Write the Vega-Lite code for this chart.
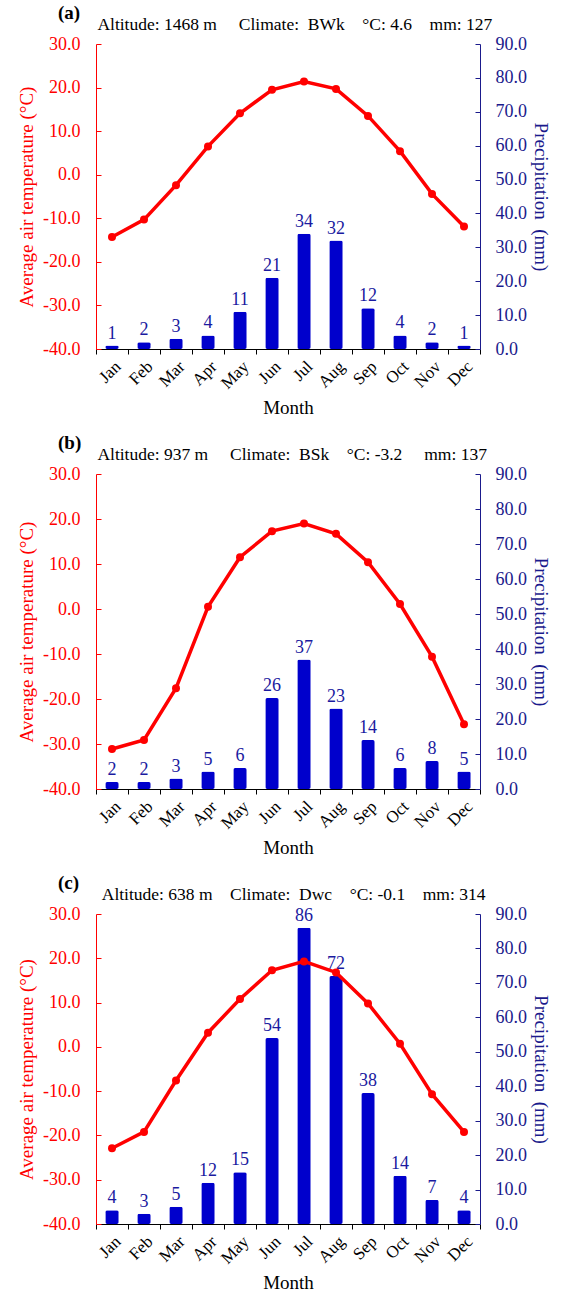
{
  "$schema": "https://vega.github.io/schema/vega-lite/v6.json",
  "padding": {"left": 17, "top": 3, "right": 0, "bottom": 0},
  "config": {
    "font": "Liberation Serif",
    "view": {"stroke": null},
    "concat": {"spacing": 15},
    "axis": {"labelFont": "Liberation Serif", "titleFont": "Liberation Serif", "grid": false, "titleFontWeight": "normal"},
    "title": {"font": "Liberation Serif", "subtitleFont": "Liberation Serif", "anchor": "start", "frame": "group", "dx": -38, "fontSize": 19, "fontWeight": "bold", "subtitleFontSize": 17.5, "subtitlePadding": -7, "offset": 2, "color": "#000000", "subtitleColor": "#000000"}
  },
  "datasets": {
    "a": [
      {"m": "Jan", "t": -14.3, "p": 1}, {"m": "Feb", "t": -10.3, "p": 2}, {"m": "Mar", "t": -2.4, "p": 3},
      {"m": "Apr", "t": 6.5, "p": 4}, {"m": "May", "t": 14.1, "p": 11}, {"m": "Jun", "t": 19.5, "p": 21},
      {"m": "Jul", "t": 21.4, "p": 34}, {"m": "Aug", "t": 19.7, "p": 32}, {"m": "Sep", "t": 13.5, "p": 12},
      {"m": "Oct", "t": 5.4, "p": 4}, {"m": "Nov", "t": -4.4, "p": 2}, {"m": "Dec", "t": -11.9, "p": 1}
    ],
    "b": [
      {"m": "Jan", "t": -31.1, "p": 2}, {"m": "Feb", "t": -29.1, "p": 2}, {"m": "Mar", "t": -17.6, "p": 3},
      {"m": "Apr", "t": 0.5, "p": 5}, {"m": "May", "t": 11.5, "p": 6}, {"m": "Jun", "t": 17.3, "p": 26},
      {"m": "Jul", "t": 19.0, "p": 37}, {"m": "Aug", "t": 16.7, "p": 23}, {"m": "Sep", "t": 10.4, "p": 14},
      {"m": "Oct", "t": 1.1, "p": 6}, {"m": "Nov", "t": -10.6, "p": 8}, {"m": "Dec", "t": -25.6, "p": 5}
    ],
    "c": [
      {"m": "Jan", "t": -22.9, "p": 4}, {"m": "Feb", "t": -19.2, "p": 3}, {"m": "Mar", "t": -7.6, "p": 5},
      {"m": "Apr", "t": 3.2, "p": 12}, {"m": "May", "t": 10.8, "p": 15}, {"m": "Jun", "t": 17.3, "p": 54},
      {"m": "Jul", "t": 19.3, "p": 86}, {"m": "Aug", "t": 16.8, "p": 72}, {"m": "Sep", "t": 9.8, "p": 38},
      {"m": "Oct", "t": 0.7, "p": 14}, {"m": "Nov", "t": -10.7, "p": 7}, {"m": "Dec", "t": -19.2, "p": 4}
    ]
  },
  "vconcat": [
    {
      "width": 384, "height": 305,
      "data": {"name": "a"},
      "title": {"text": "(a)", "subtitle": "\u200b\u00a0\u00a0\u00a0\u00a0\u00a0\u00a0\u00a0\u00a0\u00a0Altitude: 1468 m\u00a0\u00a0\u00a0\u00a0\u00a0Climate:\u00a0\u00a0BWk\u00a0\u00a0\u00a0\u00a0°C: 4.6\u00a0\u00a0\u00a0\u00a0mm: 127"},
      "encoding": {
        "x": {"field": "m", "type": "ordinal", "sort": null, "scale": {"paddingInner": 0, "paddingOuter": 0},
          "axis": {"title": "Month", "labelAngle": -45, "tickBand": "extent", "tickSize": 5, "domainColor": "#000000", "tickColor": "#000000", "labelColor": "#000000", "labelFontSize": 17, "titleFontSize": 19, "titleColor": "#000000", "labelPadding": 4, "titlePadding": 7}}
      },
      "layer": [
        {
          "encoding": {"y": {"field": "p", "type": "quantitative", "scale": {"domain": [0, 90], "nice": false},
            "axis": {"orient": "right", "title": "Precipitation\u00a0\u00a0(mm)", "values": [0, 10, 20, 30, 40, 50, 60, 70, 80, 90], "format": ".1f", "tickSize": -5, "labelPadding": 20, "domainColor": "#1a1a8c", "tickColor": "#1a1a8c", "labelColor": "#1a1a8c", "titleColor": "#1a1a8c", "labelFontSize": 18, "titleFontSize": 19, "titlePadding": 4}}},
          "layer": [
            {"mark": {"type": "bar", "color": "#0000cc", "width": {"band": 0.42}, "cornerRadius": 2}},
            {"mark": {"type": "text", "baseline": "alphabetic", "dy": -7, "fontSize": 18, "color": "#1a1aa0"}, "encoding": {"text": {"field": "p", "type": "quantitative"}}}
          ]
        },
        {
          "encoding": {"y": {"field": "t", "type": "quantitative", "scale": {"domain": [-40, 30], "nice": false},
            "axis": {"orient": "left", "title": "Average air temperature (°C)", "values": [-40, -30, -20, -10, 0, 10, 20, 30], "labelExpr": "replace(format(datum.value, '.1f'), '\u2212', '-')", "tickSize": -5, "labelPadding": 21, "domainColor": "#ff0000", "tickColor": "#ff0000", "labelColor": "#ff0000", "titleColor": "#ff0000", "labelFontSize": 18, "titleFontSize": 19, "titlePadding": 6}}},
          "layer": [
            {"mark": {"type": "line", "color": "#ff0000", "strokeWidth": 3.5}},
            {"mark": {"type": "point", "filled": true, "color": "#ff0000", "size": 64, "opacity": 1}}
          ]
        }
      ],
      "resolve": {"scale": {"y": "independent"}}
    },
    {
      "width": 384, "height": 315,
      "data": {"name": "b"},
      "title": {"text": "(b)", "subtitle": "\u200b\u00a0\u00a0\u00a0\u00a0\u00a0\u00a0\u00a0\u00a0\u00a0Altitude: 937 m\u00a0\u00a0\u00a0\u00a0\u00a0Climate:\u00a0\u00a0BSk\u00a0\u00a0\u00a0\u00a0°C: -3.2\u00a0\u00a0\u00a0\u00a0\u00a0mm: 137"},
      "encoding": {
        "x": {"field": "m", "type": "ordinal", "sort": null, "scale": {"paddingInner": 0, "paddingOuter": 0},
          "axis": {"title": "Month", "labelAngle": -45, "tickBand": "extent", "tickSize": 5, "domainColor": "#000000", "tickColor": "#000000", "labelColor": "#000000", "labelFontSize": 17, "titleFontSize": 19, "titleColor": "#000000", "labelPadding": 4, "titlePadding": 7}}
      },
      "layer": [
        {
          "encoding": {"y": {"field": "p", "type": "quantitative", "scale": {"domain": [0, 90], "nice": false},
            "axis": {"orient": "right", "title": "Precipitation\u00a0\u00a0(mm)", "values": [0, 10, 20, 30, 40, 50, 60, 70, 80, 90], "format": ".1f", "tickSize": -5, "labelPadding": 20, "domainColor": "#1a1a8c", "tickColor": "#1a1a8c", "labelColor": "#1a1a8c", "titleColor": "#1a1a8c", "labelFontSize": 18, "titleFontSize": 19, "titlePadding": 4}}},
          "layer": [
            {"mark": {"type": "bar", "color": "#0000cc", "width": {"band": 0.42}, "cornerRadius": 2}},
            {"mark": {"type": "text", "baseline": "alphabetic", "dy": -7, "fontSize": 18, "color": "#1a1aa0"}, "encoding": {"text": {"field": "p", "type": "quantitative"}}}
          ]
        },
        {
          "encoding": {"y": {"field": "t", "type": "quantitative", "scale": {"domain": [-40, 30], "nice": false},
            "axis": {"orient": "left", "title": "Average air temperature (°C)", "values": [-40, -30, -20, -10, 0, 10, 20, 30], "labelExpr": "replace(format(datum.value, '.1f'), '\u2212', '-')", "tickSize": -5, "labelPadding": 21, "domainColor": "#ff0000", "tickColor": "#ff0000", "labelColor": "#ff0000", "titleColor": "#ff0000", "labelFontSize": 18, "titleFontSize": 19, "titlePadding": 6}}},
          "layer": [
            {"mark": {"type": "line", "color": "#ff0000", "strokeWidth": 3.5}},
            {"mark": {"type": "point", "filled": true, "color": "#ff0000", "size": 64, "opacity": 1}}
          ]
        }
      ],
      "resolve": {"scale": {"y": "independent"}}
    },
    {
      "width": 384, "height": 310,
      "data": {"name": "c"},
      "title": {"text": "(c)", "subtitle": "\u200b\u00a0\u00a0\u00a0\u00a0\u00a0\u00a0\u00a0\u00a0\u00a0\u00a0Altitude: 638 m\u00a0\u00a0\u00a0\u00a0Climate:\u00a0\u00a0Dwc\u00a0\u00a0\u00a0\u00a0°C: -0.1\u00a0\u00a0\u00a0\u00a0mm: 314"},
      "encoding": {
        "x": {"field": "m", "type": "ordinal", "sort": null, "scale": {"paddingInner": 0, "paddingOuter": 0},
          "axis": {"title": "Month", "labelAngle": -45, "tickBand": "extent", "tickSize": 5, "domainColor": "#000000", "tickColor": "#000000", "labelColor": "#000000", "labelFontSize": 17, "titleFontSize": 19, "titleColor": "#000000", "labelPadding": 4, "titlePadding": 7}}
      },
      "layer": [
        {
          "encoding": {"y": {"field": "p", "type": "quantitative", "scale": {"domain": [0, 90], "nice": false},
            "axis": {"orient": "right", "title": "Precipitation\u00a0\u00a0(mm)", "values": [0, 10, 20, 30, 40, 50, 60, 70, 80, 90], "format": ".1f", "tickSize": -5, "labelPadding": 20, "domainColor": "#1a1a8c", "tickColor": "#1a1a8c", "labelColor": "#1a1a8c", "titleColor": "#1a1a8c", "labelFontSize": 18, "titleFontSize": 19, "titlePadding": 4}}},
          "layer": [
            {"mark": {"type": "bar", "color": "#0000cc", "width": {"band": 0.42}, "cornerRadius": 2}},
            {"mark": {"type": "text", "baseline": "alphabetic", "dy": -7, "fontSize": 18, "color": "#1a1aa0"}, "encoding": {"text": {"field": "p", "type": "quantitative"}}}
          ]
        },
        {
          "encoding": {"y": {"field": "t", "type": "quantitative", "scale": {"domain": [-40, 30], "nice": false},
            "axis": {"orient": "left", "title": "Average air temperature (°C)", "values": [-40, -30, -20, -10, 0, 10, 20, 30], "labelExpr": "replace(format(datum.value, '.1f'), '\u2212', '-')", "tickSize": -5, "labelPadding": 21, "domainColor": "#ff0000", "tickColor": "#ff0000", "labelColor": "#ff0000", "titleColor": "#ff0000", "labelFontSize": 18, "titleFontSize": 19, "titlePadding": 6}}},
          "layer": [
            {"mark": {"type": "line", "color": "#ff0000", "strokeWidth": 3.5}},
            {"mark": {"type": "point", "filled": true, "color": "#ff0000", "size": 64, "opacity": 1}}
          ]
        }
      ],
      "resolve": {"scale": {"y": "independent"}}
    }
  ]
}
